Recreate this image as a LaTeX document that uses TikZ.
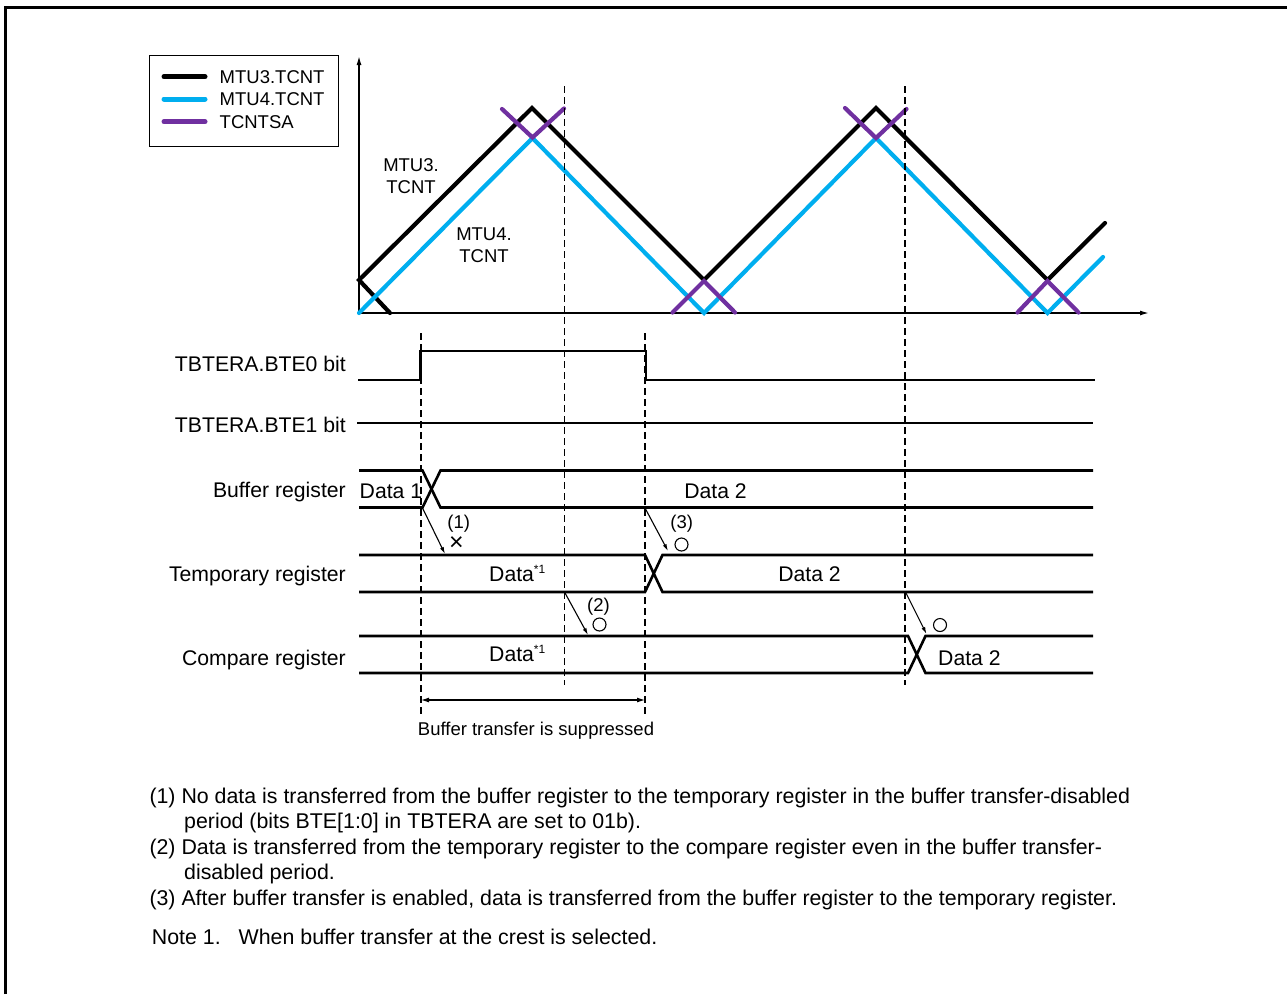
\documentclass[tikz,border=0pt]{standalone}
\usepackage{fontspec}
\setmainfont{Liberation Sans}
\usetikzlibrary{arrows.meta}
\definecolor{cblue}{HTML}{00AEEF}
\definecolor{cpurple}{HTML}{7030A0}
\begin{document}
\begin{tikzpicture}[x=1pt,y=-1pt,
  bigtxt/.style={font=\fontsize{21.2}{25.5}\selectfont, inner sep=0pt},
  notetxt/.style={font=\fontsize{21.35}{25.5}\selectfont, inner sep=0pt},
  smalltxt/.style={font=\fontsize{18.5}{21.3}\selectfont, inner sep=0pt},
  blk/.style={line width=4.2pt, black, line cap=round, line join=miter},
  blu/.style={line width=4.2pt, cblue, line cap=round, line join=miter},
  pur/.style={line width=4.2pt, cpurple, line cap=round, line join=miter},
  legline/.style={line width=5pt, line cap=round},
  axisline/.style={line width=1.4pt, -{Latex[length=9pt,width=5pt]}},
  sig/.style={line width=2.6pt, line join=miter},
  guide/.style={line width=1.3pt, dash pattern=on 7pt off 4pt},
  xfer/.style={line width=1.1pt, -{Latex[length=7pt,width=4pt]}},
  okmark/.style={line width=1.1pt}
]
\useasboundingbox (0,0) rectangle (1287,994);
% frame
\draw[line width=3pt] (5.5,994) -- (5.5,7.5) -- (1287,7.5);

% legend
\node[draw, line width=1.5pt, minimum width=189pt, minimum height=91pt, anchor=north west, inner sep=0pt] (legend) at (148.5,54.5) {};
\draw[legline, black]   (164,76.7) -- (205,76.7);
\draw[legline, cblue]   (164,99)   -- (205,99);
\draw[legline, cpurple] (164,121.7) -- (205,121.7);
\node[smalltxt, anchor=base west] (lg1) at (219.5,83.3) {MTU3.TCNT};
\node[smalltxt, anchor=base west] (lg2) at (219.5,105.7) {MTU4.TCNT};
\node[smalltxt, anchor=base west] (lg3) at (219.5,128.3) {TCNTSA};

% axes
\coordinate (O) at (359,313);
\coordinate (ytop) at (359,56);
\coordinate (xend) at (1149,313);
\draw[axisline] (O) -- (ytop);
\draw[axisline] (O) -- (xend);

% counters
\draw[blk] (390,313) -- (359,280) -- (532,108) -- (704,280) -- (876,108) -- (1047.5,280) -- (1105,223);
\draw[blu] (359,313) -- (532.5,138) -- (704,313) -- (876,138) -- (1047.5,313) -- (1103,257);
\draw[pur] (502,109) -- (532.5,137.5) -- (564,108.5);
\draw[pur] (672.5,312.5) -- (704,281) -- (735,312.5);
\draw[pur] (845,108) -- (876,138) -- (906.5,109);
\draw[pur] (1017.5,312.5) -- (1047.5,281) -- (1078.5,312.5);

\node[smalltxt, align=center] (l3) at (411,176.2) {MTU3.\\TCNT};
\node[smalltxt, align=center] (l4) at (484,245.3) {MTU4.\\TCNT};

% row labels
\node[bigtxt, anchor=base east] (r0) at (346,371.7) {TBTERA.BTE0 bit};
\node[bigtxt, anchor=base east] (r1) at (346,432.3) {TBTERA.BTE1 bit};
\node[bigtxt, anchor=base east] (r2) at (346,497.7) {Buffer register};
\node[bigtxt, anchor=base east] (r3) at (346,581) {Temporary register};
\node[bigtxt, anchor=base east] (r4) at (346,665) {Compare register};

% BTE0 / BTE1
\draw[sig] (358,380) -- (420.5,380) -- (420.5,351) -- (646,351) -- (646,380) -- (1095,380);
\draw[sig] (357,423) -- (1093,423);

% buffer register
\draw[sig] (359,470.5) -- (422.5,470.5) -- (440.5,507.5) -- (1093,507.5);
\draw[sig] (359,507.5) -- (422.5,507.5) -- (440.5,470.5) -- (1093,470.5);
% temporary register
\draw[sig] (359,555) -- (645,555) -- (662.5,592) -- (1093,592);
\draw[sig] (359,592) -- (645,592) -- (662.5,555) -- (1093,555);
% compare register
\draw[sig] (359,636) -- (908,636) -- (925.5,673) -- (1093,673);
\draw[sig] (359,673) -- (908,673) -- (925.5,636) -- (1093,636);

% data labels
\node[bigtxt, anchor=base west] (d1) at (359.5,498) {Data 1};
\node[bigtxt, anchor=base] (d2) at (715.5,498) {Data 2};
\node[bigtxt, anchor=base west] (t1) at (489,581) {Data\raisebox{8pt}{\fontsize{12}{12}\selectfont *1}};
\node[bigtxt, anchor=base] (t2) at (809.5,581) {Data 2};
\node[bigtxt, anchor=base west] (c1) at (489,661.5) {Data\raisebox{8pt}{\fontsize{12}{12}\selectfont *1}};
\node[bigtxt, anchor=base west] (c2) at (938,665) {Data 2};

% guide lines
\draw[guide] (421,333) -- (421,715);
\draw[guide] (645,333) -- (645,715);
\draw[guide] (564.5,86) -- (564.5,685);
\draw[guide] (905,86) -- (905,685);

% transfer arrows
\coordinate (a1s) at (422.5,508); \coordinate (a1e) at (445,554);
\coordinate (a3s) at (645,508);   \coordinate (a3e) at (668,551);
\coordinate (a2s) at (564.5,592); \coordinate (a2e) at (588,635);
\coordinate (a4s) at (905.5,592); \coordinate (a4e) at (926.5,634);
\draw[xfer] (a1s) -- (a1e);
\draw[xfer] (a3s) -- (a3e);
\draw[xfer] (a2s) -- (a2e);
\draw[xfer] (a4s) -- (a4e);

\node[smalltxt, anchor=base] (n1) at (458.7,528.5) {(1)};
\node[smalltxt, anchor=base] (n3) at (681.7,528.5) {(3)};
\node[smalltxt, anchor=base] (n2) at (598.5,611) {(2)};
\node[font=\fontsize{25}{25}\selectfont, inner sep=0pt] (x1) at (456.5,544) {×};
\draw[okmark] (681.5,544.5) circle[radius=6.5];
\draw[okmark] (599.5,624.5) circle[radius=6.5];
\draw[okmark] (940,625) circle[radius=6.5];

% suppressed period
\coordinate (sL) at (421,700); \coordinate (sR) at (645,700);
\draw[line width=1.1pt, {Latex[length=8pt,width=5pt]}-{Latex[length=8pt,width=5pt]}] (sL) -- (sR);
\node[smalltxt, anchor=base] (sup) at (536,735) {Buffer transfer is suppressed};

% notes
\node[notetxt, anchor=base west] (nt1) at (149.3,803.3) {(1) No data is transferred from the buffer register to the temporary register in the buffer transfer-disabled};
\node[notetxt, anchor=base west] (nt1b) at (184,828.5) {period (bits BTE[1:0] in TBTERA are set to 01b).};
\node[notetxt, anchor=base west] (nt2) at (149.3,854) {(2) Data is transferred from the temporary register to the compare register even in the buffer transfer-};
\node[notetxt, anchor=base west] (nt2b) at (184,879.5) {disabled period.};
\node[notetxt, anchor=base west] (nt3) at (149.3,905) {(3) After buffer transfer is enabled, data is transferred from the buffer register to the temporary register.};
\node[notetxt, anchor=base west] (nt4) at (151.7,944) {Note 1.\hspace{18pt}When buffer transfer at the crest is selected.};
\end{tikzpicture}
\end{document}
